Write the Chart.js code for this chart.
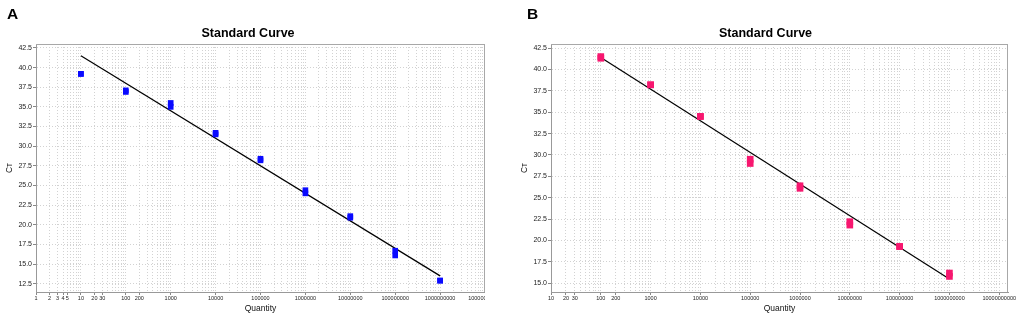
<!DOCTYPE html>
<html>
<head>
<meta charset="utf-8">
<script src="https://cdn.jsdelivr.net/npm/chart.js@4.4.1/dist/chart.umd.min.js"></script>
<style>
  html, body { margin:0; padding:0; background:#fff; }
  body { width:1021px; height:320px; position:relative; overflow:hidden; }
  #clipA { position:absolute; left:0; top:0; width:485px; height:320px; overflow:hidden; }
  #wrapA { position:absolute; left:0; top:0; width:496px; height:320px; }
  #wrapB { position:absolute; left:510px; top:0; width:511px; height:320px; }
</style>
</head>
<body>
<div id="clipA"><div id="wrapA"><canvas id="chartA"></canvas></div></div>
<div id="wrapB"><canvas id="chartB"></canvas></div>
<script>
// ---- Panel A data ----
const qtyA   = [10, 100, 1000, 10000, 100000, 1000000, 10000000, 100000000, 1000000000];
const ctA1   = [39.2, 37.1, 35.5, 31.7, 28.4, 24.4, 21.1, 16.7, 12.9];
const ctA2   = [39.2, 36.9, 35.0, 31.5, 28.2, 24.0, 20.9, 16.1, 12.9];
const fitAx  = [10, 1000000000];
const fitAy  = [41.5, 13.5];
const xLabelsA = [1, 2, 3, 4, 5, 10, 20, 30, 100, 200, 1000, 10000, 100000, 1000000, 10000000, 100000000, 1000000000, 10000000000];
const yTicksA  = [12.5, 15.0, 17.5, 20.0, 22.5, 25.0, 27.5, 30.0, 32.5, 35.0, 37.5, 40.0, 42.5];

// ---- Panel B data ----
const qtyB   = [100, 1000, 10000, 100000, 1000000, 10000000, 100000000, 1000000000];
const ctB1   = [41.5, 38.2, 34.5, 29.5, 26.4, 22.2, 19.3, 16.2];
const ctB2   = [41.3, 38.2, 34.5, 29.0, 26.1, 21.8, 19.3, 15.8];
const fitBx  = [100, 1000000000];
const fitBy  = [41.4, 15.5];
const xLabelsB = [10, 20, 30, 100, 200, 1000, 10000, 100000, 1000000, 10000000, 100000000, 1000000000, 10000000000];
const yTicksB  = [15.0, 17.5, 20.0, 22.5, 25.0, 27.5, 30.0, 32.5, 35.0, 37.5, 40.0, 42.5];

const FONT = "'Liberation Sans', Arial, 'DejaVu Sans', sans-serif";

const framePlugin = {
  id: 'frame',
  beforeDatasetsDraw(chart) {
    const {ctx, chartArea: {left, top, right, bottom}} = chart;
    ctx.save();
    ctx.strokeStyle = '#a8a8a8';
    ctx.lineWidth = 1;
    ctx.beginPath();
    ctx.moveTo(left, top + 0.5); ctx.lineTo(right, top + 0.5);
    ctx.moveTo(right - 0.5, top); ctx.lineTo(right - 0.5, bottom);
    ctx.stroke();
    ctx.restore();
  }
};
const panelLabelPlugin = {
  id: 'panelLabel',
  afterDraw(chart, args, opts) {
    const ctx = chart.ctx;
    ctx.save();
    ctx.fillStyle = '#000';
    ctx.font = "bold 15.5px " + FONT;
    ctx.textBaseline = 'alphabetic';
    ctx.fillText(opts.text, opts.x, opts.y);
    ctx.restore();
  }
};

function logTicks(min, max) {
  const out = [];
  for (let e = Math.round(Math.log10(min)); e <= Math.round(Math.log10(max)); e++) {
    for (let d = 1; d <= 9; d++) {
      const v = Math.round(d * Math.pow(10, e));
      if (v >= min && v <= max) out.push({value: v});
    }
  }
  return out;
}

function makeChart(id, cfg) {
  const pts1 = cfg.qty.map((q, i) => ({x: q, y: cfg.ct1[i]}));
  const pts2 = cfg.qty.map((q, i) => ({x: q, y: cfg.ct2[i]}));
  const fit = cfg.fitx.map((q, i) => ({x: q, y: cfg.fity[i]}));
  const pointStyleOpts = {
    showLine: false, pointStyle: 'rect', pointRadius: cfg.r,
    pointBackgroundColor: cfg.fill, pointBorderColor: cfg.fill, pointBorderWidth: 0, order: 1
  };
  return new Chart(document.getElementById(id), {
    type: 'scatter',
    data: {
      datasets: [
        Object.assign({label: 'rep1', data: pts1}, pointStyleOpts),
        Object.assign({label: 'rep2', data: pts2}, pointStyleOpts),
        {label: 'fit', data: fit, showLine: true, pointRadius: 0, borderColor: '#000', borderWidth: 1.2, order: 2}
      ]
    },
    options: {
      responsive: true, maintainAspectRatio: false, animation: false, devicePixelRatio: 1,
      layout: { padding: 0 },
      plugins: {
        legend: {display: false}, tooltip: {enabled: false},
        title: {
          display: true, text: 'Standard Curve', color: '#000',
          font: {family: FONT, size: 12.5, weight: 'bold', lineHeight: 1.2},
          padding: {top: 26, bottom: 3}
        },
        panelLabel: {text: cfg.letter, x: cfg.letterX, y: 18.5}
      },
      scales: {
        x: {
          type: 'logarithmic', min: cfg.xmin, max: cfg.xmax,
          afterBuildTicks(s) { s.ticks = logTicks(cfg.xmin, cfg.xmax); },
          afterFit(s) { s.height = 28; s.paddingLeft = 0; s.paddingRight = cfg.padRight; },
          ticks: {
            autoSkip: false, maxRotation: 0, minRotation: 0, padding: 0,
            color: '#222', font: {family: FONT, size: 5.5},
            callback: (v) => cfg.xLabels.includes(v) ? String(v) : ''
          },
          grid: {
            color: '#d2d2d2', tickLength: 3,
            tickColor: (c) => (c.tick && cfg.xLabels.includes(c.tick.value)) ? '#888' : 'rgba(0,0,0,0)'
          },
          border: {color: '#999', width: 1, dash: [1, 2]},
          title: {display: true, text: 'Quantity', color: '#111', font: {family: FONT, size: 8.5, lineHeight: 1.2}, padding: {top: 0, bottom: 5.9}}
        },
        y: {
          type: 'linear', min: cfg.ymin, max: cfg.ymax,
          afterBuildTicks(s) { s.ticks = cfg.yTicks.map(v => ({value: v})); },
          afterFit(s) { s.width = cfg.yWidth; s.paddingTop = 0; s.paddingBottom = 0; },
          ticks: { padding: 1, color: '#222', font: {family: FONT, size: 7}, callback: (v) => Number(v).toFixed(1) },
          grid: { color: '#d2d2d2', tickLength: 3, tickColor: '#888' },
          border: {color: '#999', width: 1, dash: [1, 2]},
          title: {display: true, text: 'C\u1D1B', color: '#111', font: {family: FONT, size: 8.5, lineHeight: 1.2}, padding: {top: cfg.yTitlePad, bottom: 0}}
        }
      }
    },
    plugins: [framePlugin, panelLabelPlugin]
  });
}

makeChart('chartA', {
  qty: qtyA, ct1: ctA1, ct2: ctA2, fitx: fitAx, fity: fitAy,
  xLabels: xLabelsA, yTicks: yTicksA, xmin: 1, xmax: 10000000000, ymin: 11.45, ymax: 43.0,
  fill: '#0a0aff', r: 4.0, padRight: 11, yWidth: 36, yTitlePad: 4.9,
  letter: 'A', letterX: 7
});
makeChart('chartB', {
  qty: qtyB, ct1: ctB1, ct2: ctB2, fitx: fitBx, fity: fitBy,
  xLabels: xLabelsB, yTicks: yTicksB, xmin: 10, xmax: 15000000000, ymin: 13.98, ymax: 42.97,
  fill: '#f7176f', r: 4.7, padRight: 13, yWidth: 41, yTitlePad: 9.9,
  letter: 'B', letterX: 17
});
</script>
</body>
</html>
